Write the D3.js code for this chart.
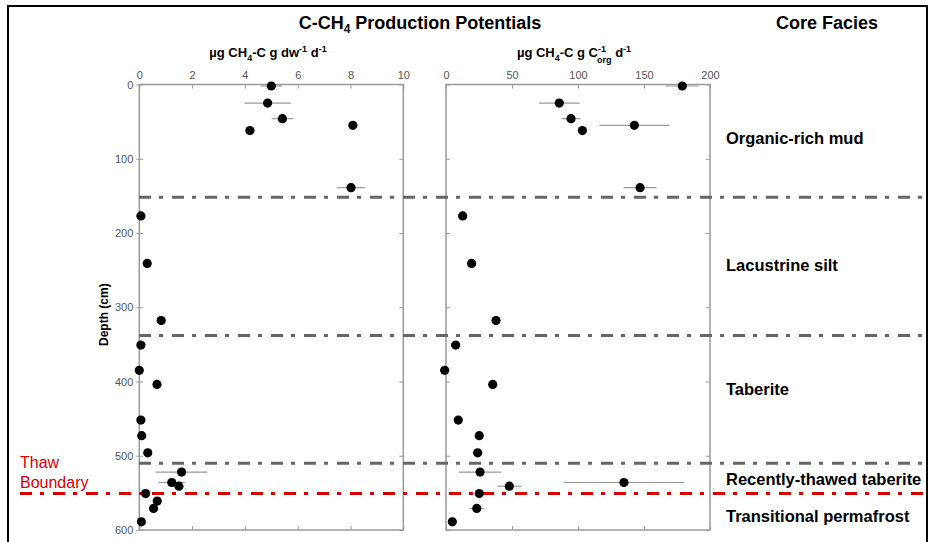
<!DOCTYPE html>
<html><head><meta charset="utf-8">
<script src="https://cdn.jsdelivr.net/npm/d3@7"></script>
<style>body{margin:0;background:#fff}svg{display:block;font-family:"Liberation Sans",Arial,sans-serif}</style>
</head><body><svg id="c" width="929" height="542"></svg>
<script>
// ---- data ----
const depth = [2,25,46,55,62,139,177,241,318,351,385,404,452,473,496,522,536,541,551,561,571,589];
const dwRate = [5.0,4.86,5.42,8.09,4.19,8.02,0.06,0.3,0.83,0.06,0.0,0.67,0.06,0.09,0.32,1.6,1.23,1.5,0.24,0.68,0.54,0.08];
const dwErr  = [0.4,0.88,0.4,0,0,0.54,0,0,0,0,0,0,0,0,0,0.98,0.5,0,0,0,0,0];
const corgRate = [179,85.8,94.7,142.7,103.3,147,12.6,19.4,37.9,7.3,-1,35.4,9.3,25.2,24,25.8,134.8,48,25.2,null,23.3,4.8];
const corgErr  = [12.4,15.5,7.2,26.5,0,12.4,0,0,0,0,0,0,0,0,3.8,16,45.8,9.2,0,0,5.5,0];
const dwTicks = [0,2,4,6,8,10];
const corgTicks = [0,50,100,150,200];
const depthTicks = [0,100,200,300,400,500,600];
const faciesBoundaries = [152,338,510];
const thawBoundary = 551;
const faciesNames = ["Organic-rich mud","Lacustrine silt","Taberite","Recently-thawed taberite","Transitional permafrost"];
const faciesLabelDepth = [72,244,410,531,582];

// ---- layout ----
const svg = d3.select("#c");
const yTop = 84.5, yBot = 530;
const y = d3.scaleLinear().domain([0,600]).range([yTop,yBot]);
const xL = d3.scaleLinear().domain([0,10]).range([139.3,403.3]);
const xR = d3.scaleLinear().domain([0,200]).range([446,710]);
const axisGray = "#9a9a9a", tickTxt = "#555";

// outer frame
svg.append("path").attr("d","M8,560 L8,6 L927,6 L927,560").attr("fill","none").attr("stroke","#000").attr("stroke-width",2);

// titles
svg.append("text").attr("x",420).attr("y",29).attr("text-anchor","middle").attr("font-weight","bold").attr("font-size",18)
  .call(t=>{t.append("tspan").text("C-CH");t.append("tspan").attr("font-size",12).attr("dy",4).text("4");t.append("tspan").attr("dy",-4).text(" Production Potentials");});
svg.append("text").attr("x",827).attr("y",29).attr("text-anchor","middle").attr("font-weight","bold").attr("font-size",18).text("Core Facies");

// axis labels
svg.append("text").attr("x",268).attr("y",57).attr("text-anchor","middle").attr("font-weight","bold").attr("font-size",13)
  .call(t=>{t.append("tspan").text("µg CH");t.append("tspan").attr("font-size",9).attr("dy",4).text("4");
    t.append("tspan").attr("dy",-4).text("-C g dw");t.append("tspan").attr("font-size",9).attr("dy",-5).text("-1");
    t.append("tspan").attr("dy",5).text(" d");t.append("tspan").attr("font-size",9).attr("dy",-5).text("-1");});
svg.append("text").attr("x",574).attr("y",57).attr("text-anchor","middle").attr("font-weight","bold").attr("font-size",13)
  .call(t=>{t.append("tspan").text("µg CH");t.append("tspan").attr("font-size",9).attr("dy",4).text("4");
    t.append("tspan").attr("dy",-4).text("-C g C");
    t.append("tspan").attr("font-size",9).attr("dy",-5).text("-1");
    t.append("tspan").attr("font-size",9).attr("dx",-9).attr("dy",11).text("org");
    t.append("tspan").attr("dy",-6).text(" d");t.append("tspan").attr("font-size",9).attr("dy",-5).text("-1");});

svg.append("text").attr("transform",`translate(108,${y(310)}) rotate(-90)`).attr("text-anchor","middle")
  .attr("font-weight","bold").attr("font-size",12).text("Depth (cm)");

function panel(x, ticks){
  const [x0,x1] = x.range();
  const g = svg.append("g");
  g.append("rect").attr("x",x0).attr("y",yTop).attr("width",x1-x0).attr("height",yBot-yTop)
    .attr("fill","none").attr("stroke",axisGray).attr("stroke-width",1.5);
  const at = d3.axisTop(x).tickValues(ticks).tickSize(-4).tickPadding(6);
  g.append("g").attr("transform",`translate(0,${yTop})`).call(at)
    .call(a=>{a.select(".domain").remove();a.selectAll("line").attr("stroke",axisGray);
      a.selectAll("text").attr("fill",tickTxt).attr("font-size",11).attr("font-family","Liberation Sans, Arial");});
  const ab = d3.axisBottom(x).tickValues(ticks).tickSize(-4).tickFormat("");
  g.append("g").attr("transform",`translate(0,${yBot})`).call(ab)
    .call(a=>{a.select(".domain").remove();a.selectAll("line").attr("stroke",axisGray);});
  const ar = d3.axisRight(y).tickValues(depthTicks).tickSize(-4).tickFormat("");
  g.append("g").attr("transform",`translate(${x1},0)`).call(ar)
    .call(a=>{a.select(".domain").remove();a.selectAll("line").attr("stroke",axisGray);});
  const al = d3.axisLeft(y).tickValues(depthTicks).tickSize(-4).tickFormat("");
  g.append("g").attr("transform",`translate(${x0},0)`).call(al)
    .call(a=>{a.select(".domain").remove();a.selectAll("line").attr("stroke",axisGray);});
  return g;
}
panel(xL, dwTicks);
panel(xR, corgTicks);

// depth tick labels
const dl = d3.axisLeft(y).tickValues(depthTicks).tickSize(3).tickPadding(3);
svg.append("g").attr("transform",`translate(${xL.range()[0]},0)`).call(dl)
  .call(a=>{a.select(".domain").remove();a.selectAll("line").attr("stroke",axisGray);
    a.selectAll("text").attr("fill",tickTxt).attr("font-size",11).attr("font-family","Liberation Sans, Arial");});

// boundaries
const dash = "12,8,4,9";
svg.selectAll(".fb").data(faciesBoundaries).join("line").attr("x1",139).attr("x2",927)
  .attr("y1",d=>y(d)).attr("y2",d=>y(d)).attr("stroke","#666").attr("stroke-width",3).attr("stroke-dasharray",dash);
svg.append("line").attr("x1",20).attr("x2",927).attr("y1",y(thawBoundary)).attr("y2",y(thawBoundary))
  .attr("stroke","#d40000").attr("stroke-width",3).attr("stroke-dasharray",dash);

svg.append("text").attr("x",20).attr("y",468).attr("fill","#d40000").attr("font-size",16).text("Thaw");
svg.append("text").attr("x",20).attr("y",488).attr("fill","#d40000").attr("font-size",16).text("Boundary");

// points
function series(x, vals, errs){
  const data = depth.map((d,i)=>({d, v:vals[i], e:errs[i]})).filter(p=>p.v!==null);
  const g = svg.append("g");
  g.selectAll("line").data(data.filter(p=>p.e>0)).join("line")
    .attr("x1",p=>x(p.v-p.e)).attr("x2",p=>x(p.v+p.e)).attr("y1",p=>y(p.d)).attr("y2",p=>y(p.d))
    .attr("stroke","#999").attr("stroke-width",1.2);
  g.selectAll("circle").data(data).join("circle")
    .attr("cx",p=>x(p.v)).attr("cy",p=>y(p.d)).attr("r",4.6).attr("fill","#000");
}
series(xL, dwRate, dwErr);
series(xR, corgRate, corgErr);

// facies labels
svg.selectAll(".fl").data(faciesNames).join("text").attr("x",726).attr("y",(d,i)=>y(faciesLabelDepth[i]))
  .attr("dy","0.35em").attr("font-weight","bold").attr("font-size",16.5).text(d=>d);
</script></body></html>
